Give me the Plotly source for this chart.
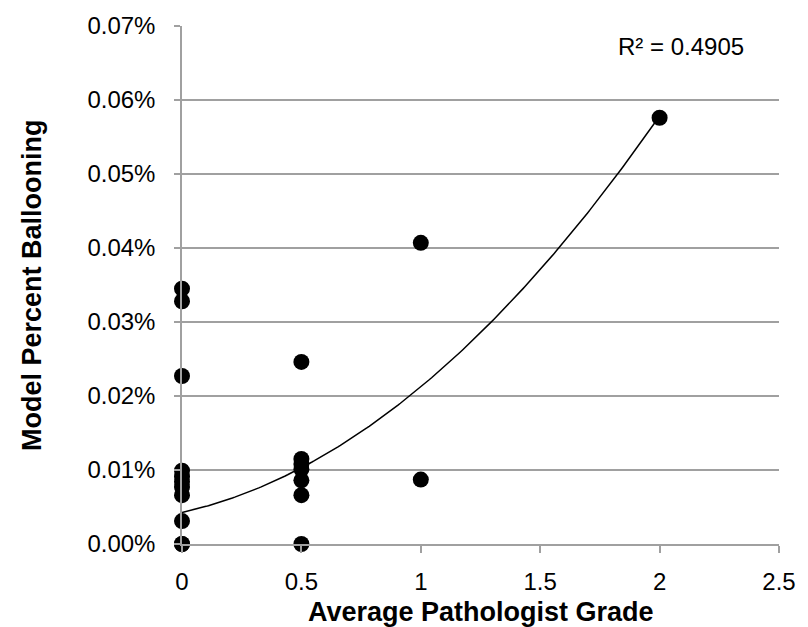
import numpy as np
import plotly.graph_objects as go

# Data (y in percent units)
grade = [0, 0, 0, 0, 0, 0, 0, 0, 0, 0, 0,
         0.5, 0.5, 0.5, 0.5, 0.5, 0.5, 0.5,
         1, 1,
         2]
ballooning = [0.0345, 0.0328, 0.0227, 0.0099, 0.0091, 0.0084, 0.0077, 0.0066, 0.0031, 0.0, 0.0,
              0.0246, 0.0115, 0.0108, 0.0101, 0.0086, 0.0066, 0.0,
              0.0407, 0.0087,
              0.0576]
# Polynomial (order 2) trendline coefficients, highest power first
trend_coef = [0.00982, 0.00715, 0.00427]
r2_label = "R² = 0.4905"

x_ticks = [0, 0.5, 1, 1.5, 2, 2.5]
y_ticks = [0, 0.01, 0.02, 0.03, 0.04, 0.05, 0.06, 0.07]

FONT = "Liberation Sans, Arial, sans-serif"
GRID = "#a0a0a0"

xt = np.linspace(min(grade), max(grade), 200)
yt = np.polyval(trend_coef, xt)

fig = go.Figure()
fig.add_trace(go.Scatter(x=xt, y=yt, mode="lines",
                         line=dict(color="black", width=1.5),
                         hoverinfo="skip", showlegend=False))
fig.add_trace(go.Scatter(x=grade, y=ballooning, mode="markers",
                         marker=dict(color="black", size=16),
                         cliponaxis=False, showlegend=False))

W, H = 808, 627
L, R, T, B = 182, 25, 18, 83

fig.update_layout(
    width=W, height=H,
    margin=dict(l=L, r=R, t=T, b=B, pad=0),
    paper_bgcolor="white", plot_bgcolor="white",
    font=dict(family=FONT, size=24, color="black"),
    xaxis=dict(range=[0, 2.5], tickvals=x_ticks, ticktext=[f"{v:g}" for v in x_ticks],
               showgrid=False, zeroline=False, showline=True, linecolor=GRID, linewidth=1.5,
               ticks="outside", ticklen=7, tickcolor=GRID, tickwidth=1.5,
               ticklabelstandoff=8,
               tickfont=dict(family=FONT, size=24, color="black")),
    yaxis=dict(range=[0, 0.07], tickvals=y_ticks, ticktext=[f"{v:.2f}%" for v in y_ticks],
               showgrid=True, gridcolor=GRID, gridwidth=1.5, zeroline=False,
               showline=True, linecolor=GRID, linewidth=1.5,
               ticks="outside", ticklen=6, tickcolor=GRID, tickwidth=1.5,
               ticklabelstandoff=14,
               tickfont=dict(family=FONT, size=24, color="black")),
    annotations=[
        dict(text="<b>Average Pathologist Grade</b>", xref="paper", yref="paper",
             x=0.5, y=-(613 - (H - B)) / (H - B - T), xanchor="center", yanchor="middle",
             showarrow=False, font=dict(family=FONT, size=27, color="black")),
        dict(text="<b>Model Percent Ballooning</b>", xref="paper", yref="paper",
             x=(31 - L) / (W - L - R), y=0.5, xanchor="center", yanchor="middle",
             textangle=-90, showarrow=False, font=dict(family=FONT, size=27, color="black")),
        dict(text=r2_label, xref="paper", yref="paper",
             x=(684 - L) / (W - L - R), y=1 - (38.5 - T) / (H - B - T),
             xanchor="center", yanchor="middle", showarrow=False,
             font=dict(family=FONT, size=24, color="black")),
    ],
)

fig.write_html("out.html")
